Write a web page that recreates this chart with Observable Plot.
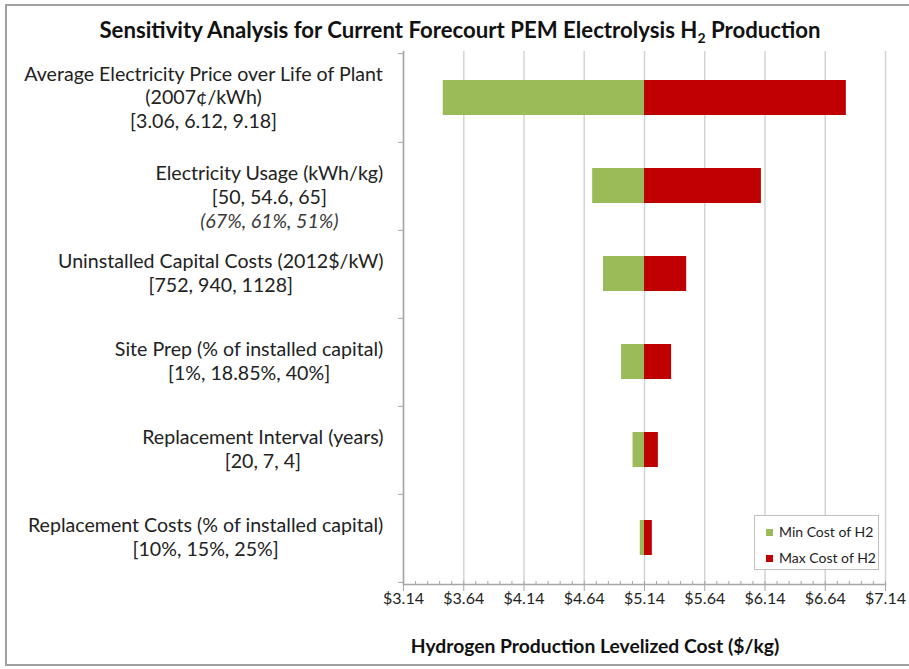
<!DOCTYPE html>
<html><head><meta charset="utf-8">
<script src="https://cdn.jsdelivr.net/npm/d3@7"></script>
<script src="https://cdn.jsdelivr.net/npm/@observablehq/plot@0.6"></script>
<style>
body{margin:0;background:#fff;font-family:Lato,sans-serif;}
#wrap{position:relative;width:909px;height:669px;overflow:hidden;}
#wrap svg{position:absolute;left:0;top:0;}
#border{position:absolute;left:5px;top:4px;width:920px;height:662px;border:2px solid #a0a0a0;box-sizing:border-box;}
#title{position:absolute;left:0;top:16px;width:920px;text-align:center;font-weight:bold;font-size:22.2px;line-height:27px;color:#111;}
#title sub{font-size:14px;line-height:0;}
#xtitle{position:absolute;left:380px;top:634px;width:430px;text-align:center;font-weight:bold;font-size:19.3px;line-height:24px;color:#111;}
#legend{position:absolute;left:754px;top:515px;width:125px;height:55px;border:1px solid #bfbfbf;background:#fff;box-sizing:border-box;font-size:14px;color:#222;}
.li{position:absolute;left:11px;height:18px;line-height:18px;white-space:nowrap;}
.sw{display:inline-block;width:7px;height:7px;margin-right:6px;vertical-align:1px;}
</style>
</head><body>
<div id="wrap">
  <div id="border"></div>
  <div id="title">Sensitivity Analysis for Current Forecourt PEM Electrolysis H<sub>2</sub> Production</div>
  <div id="xtitle">Hydrogen Production Levelized Cost ($/kg)</div>
</div>
<script>
// ---- data ----
const categories = [
  "Average Electricity Price over Life of Plant",
  "Electricity Usage (kWh/kg)",
  "Uninstalled Capital Costs (2012$/kW)",
  "Site Prep (% of installed capital)",
  "Replacement Interval (years)",
  "Replacement Costs (% of installed capital)"
];
const labelLines = [
  ["Average Electricity Price over Life of Plant", "(2007¢/kWh)", "[3.06, 6.12, 9.18]"],
  ["", "Electricity Usage (kWh/kg)", "[50, 54.6, 65]", "(67%, 61%, 51%)"],
  ["Uninstalled Capital Costs (2012$/kW)", "[752, 940, 1128]"],
  ["Site Prep (% of installed capital)", "[1%, 18.85%, 40%]"],
  ["Replacement Interval (years)", "[20, 7, 4]"],
  ["Replacement Costs (% of installed capital)", "[10%, 15%, 25%]"]
];
const italicLines = ["(67%, 61%, 51%)"];
const baseCost = 5.14;
const minCost = [3.47, 4.71, 4.80, 4.95, 5.045, 5.105];
const maxCost = [6.815, 6.11, 5.49, 5.365, 5.255, 5.205];
const seriesNames = ["Min Cost of H2", "Max Cost of H2"];
const seriesColors = ["#9BBB59", "#C00000"];
const xTicks = [3.14, 3.64, 4.14, 4.64, 5.14, 5.64, 6.14, 6.64, 7.14];

// ---- build ----
const W = 909, H = 669, mT = 51, mB = 85, mL = 403, mR = 24;
const step = (H - mT - mB) / categories.length;
const lineH = 23.6;
const labelFont = 19.6;
const gap = 20;
const FONT = "Lato";

const rows = categories.map((c, i) => ({cat: c, base: baseCost, min: minCost[i], max: maxCost[i]}));
const minorTicks = d3.range(0, 41).map(i => +(xTicks[0] + i * 0.1).toFixed(2));

const ctx = document.createElement("canvas").getContext("2d");

const labelMarks = [];
categories.forEach((c, i) => {
  const lines = labelLines[i];
  const maxW = d3.max(lines, l => {
    ctx.font = `${italicLines.includes(l) ? "italic " : ""}${labelFont}px "${FONT}"`;
    return ctx.measureText(l).width;
  });
  lines.forEach((l, j) => {
    if (!l) return;
    const it = italicLines.includes(l);
    labelMarks.push(Plot.text([c], {
      y: d => d, text: () => l, frameAnchor: "left", textAnchor: "middle",
      dx: -(gap + maxW / 2), dy: (j - (lines.length - 1) / 2) * lineH,
      fontSize: labelFont, fontFamily: FONT, fontStyle: it ? "italic" : "normal",
      fill: it ? "#3a3a3a" : "#222"
    }));
  });
});

const chart = Plot.plot({
  width: W, height: H,
  marginTop: mT, marginBottom: mB, marginLeft: mL, marginRight: mR,
  style: {background: "transparent", overflow: "visible", fontFamily: FONT},
  x: {domain: [xTicks[0], xTicks[xTicks.length - 1]]},
  y: {domain: categories, paddingInner: 0.6, paddingOuter: 0.3},
  marks: [
    Plot.gridX(xTicks, {stroke: "#d4d4d4", strokeOpacity: 1, strokeWidth: 1.5}),
    Plot.barX(rows, {y: "cat", x1: "base", x2: "min", fill: seriesColors[0]}),
    Plot.barX(rows, {y: "cat", x1: "base", x2: "max", fill: seriesColors[1]}),
    Plot.frame({anchor: "left", stroke: "#a6a6a6", strokeWidth: 1.5}),
    Plot.frame({anchor: "bottom", stroke: "#a6a6a6", strokeWidth: 1.5}),
    Plot.axisY({tickSize: 5, dy: step / 2, text: null, stroke: "#a6a6a6", label: null}),
    Plot.axisY([categories[0]], {tickSize: 5, dy: -step / 2, text: null, stroke: "#a6a6a6", label: null}),
    Plot.axisX(minorTicks, {tickSize: 3, dy: -3, text: null, stroke: "#a6a6a6", label: null}),
    Plot.axisX(xTicks, {tickSize: 7, tickPadding: 1, stroke: "#a6a6a6", fill: "#222",
      fontSize: 16, fontFamily: FONT, tickFormat: d => "$" + d.toFixed(2), label: null}),
    ...labelMarks
  ]
});
const wrap = document.getElementById("wrap");
wrap.insertBefore(chart, wrap.firstChild);

const leg = document.createElement("div");
leg.id = "legend";
seriesNames.forEach((n, i) => {
  const it = document.createElement("div");
  it.className = "li";
  it.style.top = (7 + i * 26) + "px";
  it.innerHTML = `<span class="sw" style="background:${seriesColors[i]}"></span>${n}`;
  leg.appendChild(it);
});
wrap.appendChild(leg);
</script>
</body></html>
